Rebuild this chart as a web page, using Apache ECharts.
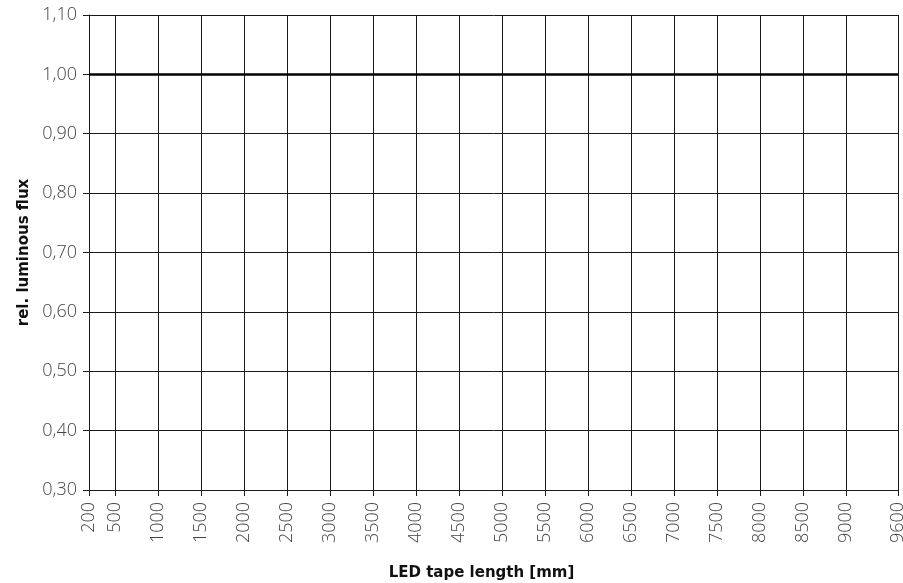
<!DOCTYPE html>
<html>
<head>
<meta charset="utf-8">
<script src="https://cdn.jsdelivr.net/npm/echarts@6/dist/echarts.min.js"></script>
<style>html,body{margin:0;padding:0;background:#fff;}#c{width:903px;height:583px;}</style>
</head>
<body>
<div id="c"></div>
<script>
const xTicks = [200, 500, 1000, 1500, 2000, 2500, 3000, 3500, 4000, 4500, 5000, 5500, 6000, 6500, 7000, 7500, 8000, 8500, 9000, 9600];
const lengths = [200, 9600];
const relFlux = [1.00, 1.00];
const xName = 'LED tape length [mm]';
const yName = 'rel. luminous flux';

const chart = echarts.init(document.getElementById('c'), null, {renderer: 'canvas'});
const lineCol = '#1a1a1a';
const labelFont = {fontFamily: 'Open Sans', fontWeight: 300, fontSize: 18, color: '#444'};
const nameFont = {fontFamily: 'DejaVu Sans', fontWeight: 'bold', fontSize: 15, color: '#111'};
chart.setOption({
  animation: false,
  grid: {left: 89, right: 5, top: 15, bottom: 93, containLabel: false, outerBoundsMode: 'none'},
  xAxis: {
    type: 'value', min: 200, max: 9600,
    name: xName, nameLocation: 'middle', nameGap: 76,
    nameTextStyle: Object.assign({padding: [0, 24, 0, 0]}, nameFont),
    axisLine: {show: true, lineStyle: {color: lineCol, width: 1}},
    axisTick: {show: true, length: 6, customValues: xTicks, lineStyle: {color: lineCol}},
    axisLabel: Object.assign({customValues: xTicks, rotate: 90, margin: 12, formatter: v => String(v)}, labelFont),
    splitLine: {show: true, lineStyle: {color: lineCol, width: 1}}
  },
  yAxis: {
    type: 'value', min: 0.3, max: 1.1, interval: 0.1,
    name: yName, nameLocation: 'middle', nameGap: 57,
    nameTextStyle: nameFont,
    axisLine: {show: true, lineStyle: {color: lineCol, width: 1}},
    axisTick: {show: true, length: 6, lineStyle: {color: lineCol}},
    axisLabel: Object.assign({margin: 12, formatter: v => v.toFixed(2).replace('.', ',')}, labelFont),
    splitLine: {show: true, lineStyle: {color: lineCol, width: 1}}
  },
  series: [{
    type: 'line', data: lengths.map((x, i) => [x, relFlux[i]]),
    symbol: 'none', lineStyle: {color: '#000', width: 2.5}
  }]
});
</script>
</body>
</html>
